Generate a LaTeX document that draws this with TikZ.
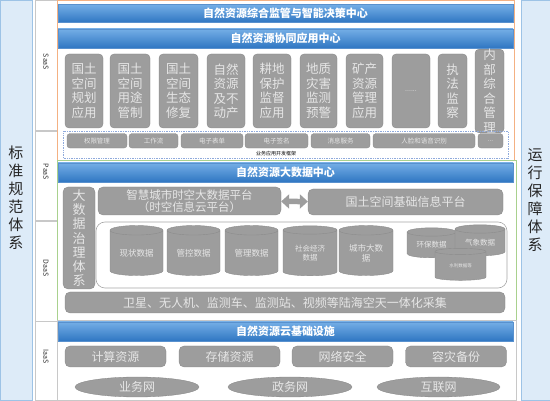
\documentclass[tikz,border=0pt]{standalone}
\usepackage{fontspec}
\setmainfont{Noto Sans CJK SC}
\usetikzlibrary{arrows.meta, shapes.geometric}
\definecolor{headtop}{HTML}{74AEE6}
\definecolor{headbot}{HTML}{2F76C2}
\definecolor{boxgray}{HTML}{9D9D9D}
\definecolor{lighttext}{HTML}{E6E6E6}
\definecolor{sideblue}{HTML}{DDEBF8}
\definecolor{sideline}{HTML}{9DC3E6}
\definecolor{saasline}{HTML}{F4B183}
\definecolor{daasline}{HTML}{A9D18E}
\definecolor{paasline}{HTML}{8FAADC}
\definecolor{frameline}{HTML}{C8C8C8}

\begin{document}
\begin{tikzpicture}[x=1pt, y=-1pt,
    side/.style={rectangle, draw=sideline, fill=sideblue, line width=0.8pt},
    layer/.style={rectangle, draw=frameline, fill=white, line width=0.6pt},
    layertext/.style={font=\fontsize{7}{8}\selectfont, rotate=-90, text=black!80},
    sidetext/.style={align=center, font=\fontsize{15}{18}\selectfont, text=black!85},
    header/.style={rectangle, top color=headtop, bottom color=headbot, draw=headbot!80, line width=0.4pt, minimum width=455pt, minimum height=18pt, inner sep=0pt, text=white, font=\fontsize{11}{12}\selectfont\bfseries},
    app/.style={rectangle, rounded corners=4pt, fill=boxgray, draw=boxgray!85!black, line width=0.3pt, minimum height=74pt, inner sep=0pt, align=center, text=lighttext, font=\fontsize{12.5}{14.5}\selectfont},
    pill/.style={rectangle, rounded corners=3pt, fill=boxgray, draw=boxgray!85!black, line width=0.3pt, minimum height=14.5pt, inner sep=0pt, text=lighttext, font=\fontsize{6.5}{7}\selectfont},
    block/.style={rectangle, rounded corners=5pt, fill=boxgray, draw=boxgray!85!black, line width=0.3pt, inner sep=0pt, align=center, text=lighttext, font=\fontsize{12}{13.5}\selectfont},
    datacyl/.style={cylinder, shape border rotate=90, aspect=0.28, fill=boxgray, draw=black!45, line width=0.4pt, inner sep=0pt, align=center, text=lighttext, font=\fontsize{8.5}{10}\selectfont},
    net/.style={ellipse, fill=boxgray, draw=boxgray!85!black, line width=0.3pt, minimum width=124pt, minimum height=20pt, inner sep=0pt, text=lighttext, font=\fontsize{12}{13}\selectfont},
    bothway/.style={{Triangle[width=14pt,length=8pt]}-{Triangle[width=14pt,length=8pt]}, line width=5.5pt, color=boxgray}
]
\useasboundingbox (0,0) rectangle (550,401);

% side columns
\node[side, minimum width=31pt, minimum height=400pt, anchor=north west] (stdcol) at (0.5,0.5) {};
\node[sidetext] (stdtext) at (16,198) {标\\准\\规\\范\\体\\系};
\node[side, minimum width=29pt, minimum height=400pt, anchor=north west] (opscol) at (520.5,0.5) {};
\node[sidetext] (opstext) at (535,200) {运\\行\\保\\障\\体\\系};

% layer labels
\node[layer, minimum width=22pt, minimum height=130pt, anchor=north west] (saascell) at (35,0.5) {};
\node[layer, minimum width=22pt, minimum height=89pt, anchor=north west] (paascell) at (35,131) {};
\node[layer, minimum width=22pt, minimum height=100pt, anchor=north west] (daascell) at (35,221) {};
\node[layer, minimum width=22pt, minimum height=79pt, anchor=north west] (iaascell) at (35,321.5) {};
\node[layertext] at (46,62) {SaaS};
\node[layertext] at (46,172) {PaaS};
\node[layertext] at (46,268) {DaaS};
\node[layertext] at (46,357) {IaaS};

% frames
\draw[saasline, line width=0.8pt] (57,0.5) rectangle (514,160);
\draw[daasline, line width=0.8pt] (57,160.5) rectangle (516,320);
\draw[frameline, line width=0.6pt] (57,320.5) rectangle (516,400.5);

% SaaS
\node[header] (decision) at (285.5,13.5) {自然资源综合监管与智能决策中心};
\node[header, minimum height=19pt] (collab) at (285.5,38.5) {自然资源协同应用中心};
\node[app, minimum width=38pt] (plan) at (84,91) {国土\\空间\\规划\\应用};
\node[app, minimum width=40pt] (usage) at (130,91) {国土\\空间\\用途\\管制};
\node[app, minimum width=39pt] (repair) at (178.5,91) {国土\\空间\\生态\\修复};
\node[app, minimum width=38pt] (estate) at (226,91) {自然\\资源\\及不\\动产};
\node[app, minimum width=38pt] (farm) at (272,91) {耕地\\保护\\监督\\应用};
\node[app, minimum width=37pt] (hazard) at (318.5,91) {地质\\灾害\\监测\\预警};
\node[app, minimum width=37pt] (mineral) at (364.5,91) {矿产\\资源\\管理\\应用};
\node[app, minimum width=38pt, font=\fontsize{7}{8}\selectfont] (moreapp) at (411,91) {......};
\node[app, minimum width=29pt] (inspect) at (452.5,91) {执\\法\\监\\察};
\node[app, minimum width=29pt] (internal) at (489.5,91) {内\\部\\综\\合\\管\\理};

% PaaS framework
\draw[paasline, densely dotted, line width=0.7pt] (63,131.5) rectangle (508,158);
\node[pill, minimum width=60pt] (auth) at (97,140.8) {权限管理};
\node[pill, minimum width=49pt] (flow) at (153.5,140.8) {工作流};
\node[pill, minimum width=62pt] (form) at (212,140.8) {电子表单};
\node[pill, minimum width=63pt] (sign) at (276.5,140.8) {电子签名};
\node[pill, minimum width=59pt] (msg) at (340.5,140.8) {消息服务};
\node[pill, minimum width=102pt] (face) at (424,140.8) {人脸和语音识别};
\node[pill, minimum width=25pt] (morepill) at (490.5,140.8) {...};
\node[font=\fontsize{5}{6}\selectfont, inner sep=0pt] (framework) at (276,153.5) {业务应用开发框架};

% DaaS
\node[header, minimum height=19pt] (bigdata) at (285.5,172.5) {自然资源大数据中心};
\node[block, minimum width=32pt, minimum height=102pt, font=\fontsize{13}{14.2}\selectfont] (govern) at (79,238) {大\\数\\据\\治\\理\\体\\系};
\node[block, minimum width=183pt, minimum height=28pt, font=\fontsize{11.5}{12.5}\selectfont] (smart) at (189.5,201) {智慧城市时空大数据平台\\（时空信息云平台）};
\node[block, minimum width=195pt, minimum height=26pt] (basic) at (405.5,202) {国土空间基础信息平台};
\draw[bothway] (smart) -- (basic);
\node[rectangle, rounded corners=9pt, draw=black!35, fill=white, line width=0.6pt, minimum width=411pt, minimum height=66pt] (store) at (301.5,255) {};
\node[datacyl, minimum width=53pt, minimum height=50pt] (current) at (136.5,253) {现状数据};
\node[datacyl, minimum width=53pt, minimum height=50pt] (control) at (193.5,253) {管控数据};
\node[datacyl, minimum width=53pt, minimum height=50pt] (manage) at (251.5,253) {管理数据};
\node[datacyl, minimum width=54pt, minimum height=50pt, font=\fontsize{7.5}{9}\selectfont] (economy) at (310,253) {社会经济\\数据};
\node[datacyl, minimum width=54pt, minimum height=50pt, font=\fontsize{8.5}{10.5}\selectfont] (city) at (366,253) {城市大数\\据};
\node[datacyl, minimum width=49pt, minimum height=30pt, font=\fontsize{7.5}{9}\selectfont] (envir) at (431.5,245) {环保数据};
\node[datacyl, minimum width=50pt, minimum height=31pt, font=\fontsize{7.5}{9}\selectfont] (weather) at (480,242.5) {气象数据};
\node[datacyl, minimum width=51pt, minimum height=32pt, font=\fontsize{4.5}{5}\selectfont] (water) at (460.5,266) {水利数据等};
\node[block, minimum width=440pt, minimum height=21pt] (collect) at (285,302.5) {卫星、无人机、监测车、监测站、视频等陆海空天一体化采集};

% IaaS
\node[header, minimum height=19pt] (cloud) at (285.5,331.5) {自然资源云基础设施};
\node[block, minimum width=101pt, minimum height=21pt] (compute) at (115.5,356.5) {计算资源};
\node[block, minimum width=101pt, minimum height=21pt] (storage) at (229.5,356.5) {存储资源};
\node[block, minimum width=101pt, minimum height=21pt] (security) at (342.5,356.5) {网络安全};
\node[block, minimum width=101pt, minimum height=21pt] (backup) at (456,356.5) {容灾备份};
\node[net] (biznet) at (137,387) {业务网};
\node[net] (govnet) at (290,387) {政务网};
\node[net, minimum width=123pt] (internet) at (438.5,387) {互联网};
\end{tikzpicture}
\end{document}
